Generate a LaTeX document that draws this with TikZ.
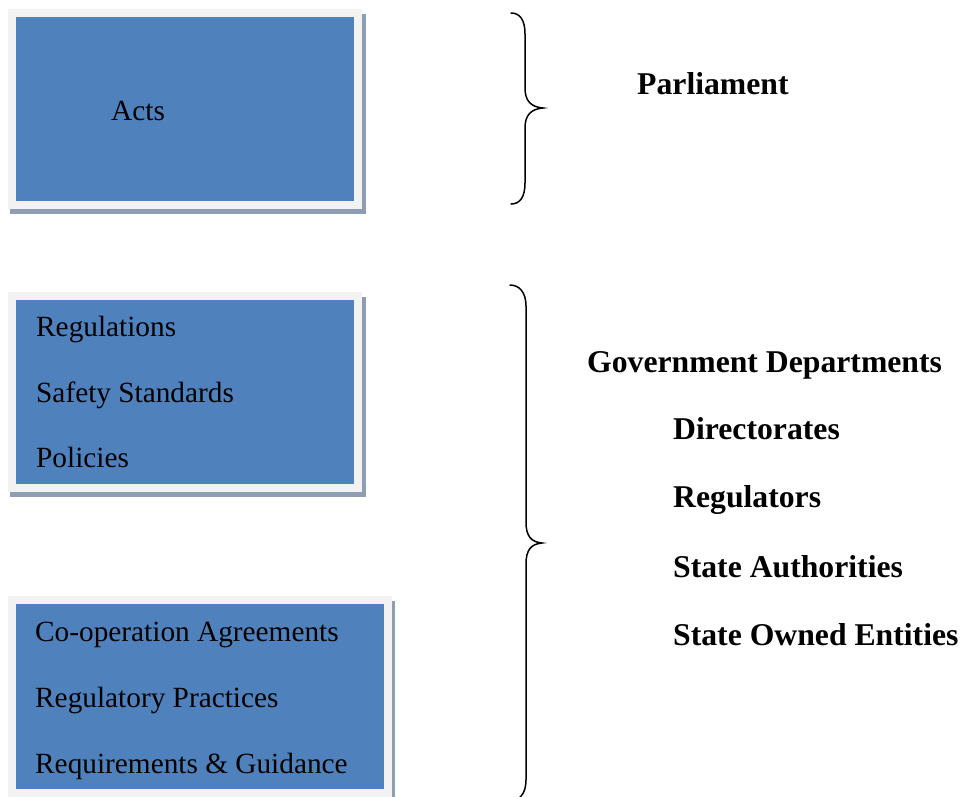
\documentclass[tikz,border=0pt]{standalone}
\usepackage{fontspec}
\setmainfont{Liberation Serif}
\usetikzlibrary{positioning}
\usetikzlibrary{backgrounds}
\definecolor{panelblue}{HTML}{4F81BD}
\definecolor{panelframe}{HTML}{F2F2F2}
\definecolor{panelshade}{HTML}{8E9DB2}
\tikzset{
  panel/.style={draw=panelframe,line width=8pt,fill=panelblue,anchor=north west,inner sep=0pt},
  itemtext/.style={anchor=base west,inner sep=0pt,font=\fontsize{29.3}{35}\selectfont},
  bodytext/.style={anchor=base west,inner sep=0pt,font=\fontsize{31.7}{38}\selectfont\bfseries},
  bracket/.style={line width=1.5pt,line cap=round}
}

\begin{document}
\begin{tikzpicture}[x=1pt,y=-1pt]
 \useasboundingbox (0,0) rectangle (963,796);
 \clip (0,0) rectangle (963,796);
 % boxes
 \node[panel,minimum width=346pt,minimum height=192pt] (acts) at (8,9) {};
 \node[panel,minimum width=346pt,minimum height=192pt] (rules) at (8,292) {};
 \node[panel,minimum width=376pt,minimum height=193pt] (practice) at (8,596) {};
 \begin{scope}[on background layer]
  \fill[panelshade] ([shift={(2,5)}]acts.north west) rectangle ([shift={(4,5)}]acts.south east);
  \fill[panelshade] ([shift={(2,5)}]rules.north west) rectangle ([shift={(4,5)}]rules.south east);
  \fill[panelshade] ([shift={(2,5)}]practice.north west) rectangle ([shift={(3,5)}]practice.south east);
 \end{scope}
 % box texts
 \node[itemtext] (tacts) at (111,120) {Acts};
 \node[itemtext] (treg) at (36,336) {Regulations};
 \node[itemtext] (tsafe) at (36,402) {Safety Standards};
 \node[itemtext] (tpol) at (36,467) {Policies};
 \node[itemtext] (tcoop) at (35,641) {Co-operation Agreements};
 \node[itemtext] (tprac) at (35,707) {Regulatory Practices};
 \node[itemtext] (treq) at (35,773) {Requirements \& Guidance};
 % braces
 \draw[bracket] (511,13) .. controls (520,13) and (525,20) .. (525,34) -- (525,88)
   .. controls (525,101) and (531,107) .. (543,108) .. controls (531,109) and (525,115) .. (525,128)
   -- (525,183) .. controls (525,197) and (520,204) .. (511,204);
 \draw[bracket] (510,285) .. controls (519,285) and (526,292) .. (526,306) -- (526,522)
   .. controls (526,536) and (531,542) .. (542,543) .. controls (531,544) and (526,550) .. (526,564)
   -- (526,780) .. controls (526,794) and (519,801) .. (510,801);
 % bodies
 \node[bodytext] (parl) at (637,94) {Parliament};
 \node[bodytext] (gov) at (587,372) {Government Departments};
 \node[bodytext] (dir) at (673,439) {Directorates};
 \node[bodytext] (regs) at (673,507) {Regulators};
 \node[bodytext] (auth) at (673,577) {State Authorities};
 \node[bodytext] (owned) at (673,645) {State Owned Entities};
\end{tikzpicture}
\end{document}
